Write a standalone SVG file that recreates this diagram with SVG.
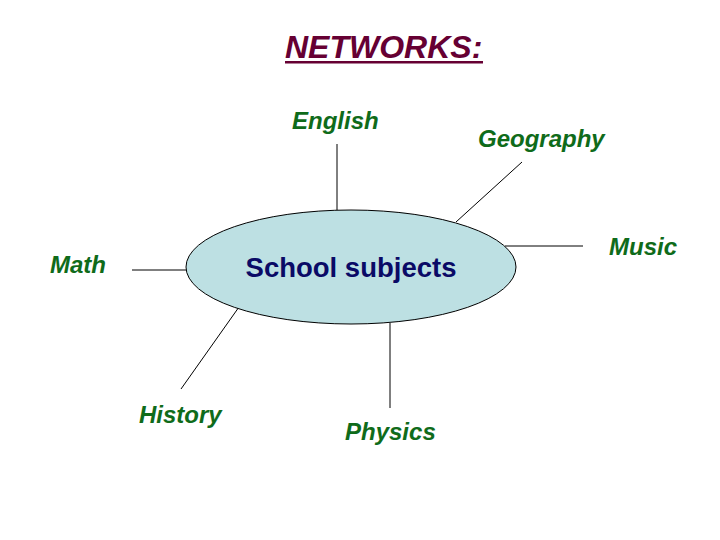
<svg xmlns="http://www.w3.org/2000/svg" width="720" height="540" viewBox="0 0 720 540">
<style>
.lbl{font-family:"Liberation Sans",Arial,sans-serif;font-style:italic;font-weight:bold;font-size:24px;fill:#0f6b1a}
.ln{stroke:#000;stroke-width:1;fill:none}
</style>
<rect width="720" height="540" fill="#fff"/>
<g id="title">
<text x="285" y="58" font-family="'Liberation Sans',Arial,sans-serif" font-style="italic" font-weight="bold" font-size="32" fill="#660033">NETWORKS:</text>
<rect x="285" y="61" width="198" height="2.5" fill="#660033"/>
</g>
<g id="connectors">
<line class="ln" x1="337" y1="144" x2="337" y2="210"/>
<line class="ln" x1="522" y1="162" x2="456" y2="222"/>
<line class="ln" x1="505" y1="246" x2="583" y2="246"/>
<line class="ln" x1="132" y1="270" x2="186" y2="270"/>
<line class="ln" x1="239" y1="307" x2="181" y2="389"/>
<line class="ln" x1="390" y1="323" x2="390" y2="408"/>
</g>
<g id="center">
<ellipse cx="351" cy="267" rx="165" ry="57" fill="#bde0e3" stroke="#000" stroke-width="1"/>
<text x="351" y="277" text-anchor="middle" font-family="'Liberation Sans',Arial,sans-serif" font-weight="bold" font-size="27.5" fill="#0a0a66">School subjects</text>
</g>
<g id="english"><text class="lbl" x="292" y="129">English</text></g>
<g id="geography"><text class="lbl" x="478" y="147">Geography</text></g>
<g id="music"><text class="lbl" x="609" y="255">Music</text></g>
<g id="math"><text class="lbl" x="50" y="273">Math</text></g>
<g id="history"><text class="lbl" x="139" y="423">History</text></g>
<g id="physics"><text class="lbl" x="345" y="440">Physics</text></g>
</svg>
